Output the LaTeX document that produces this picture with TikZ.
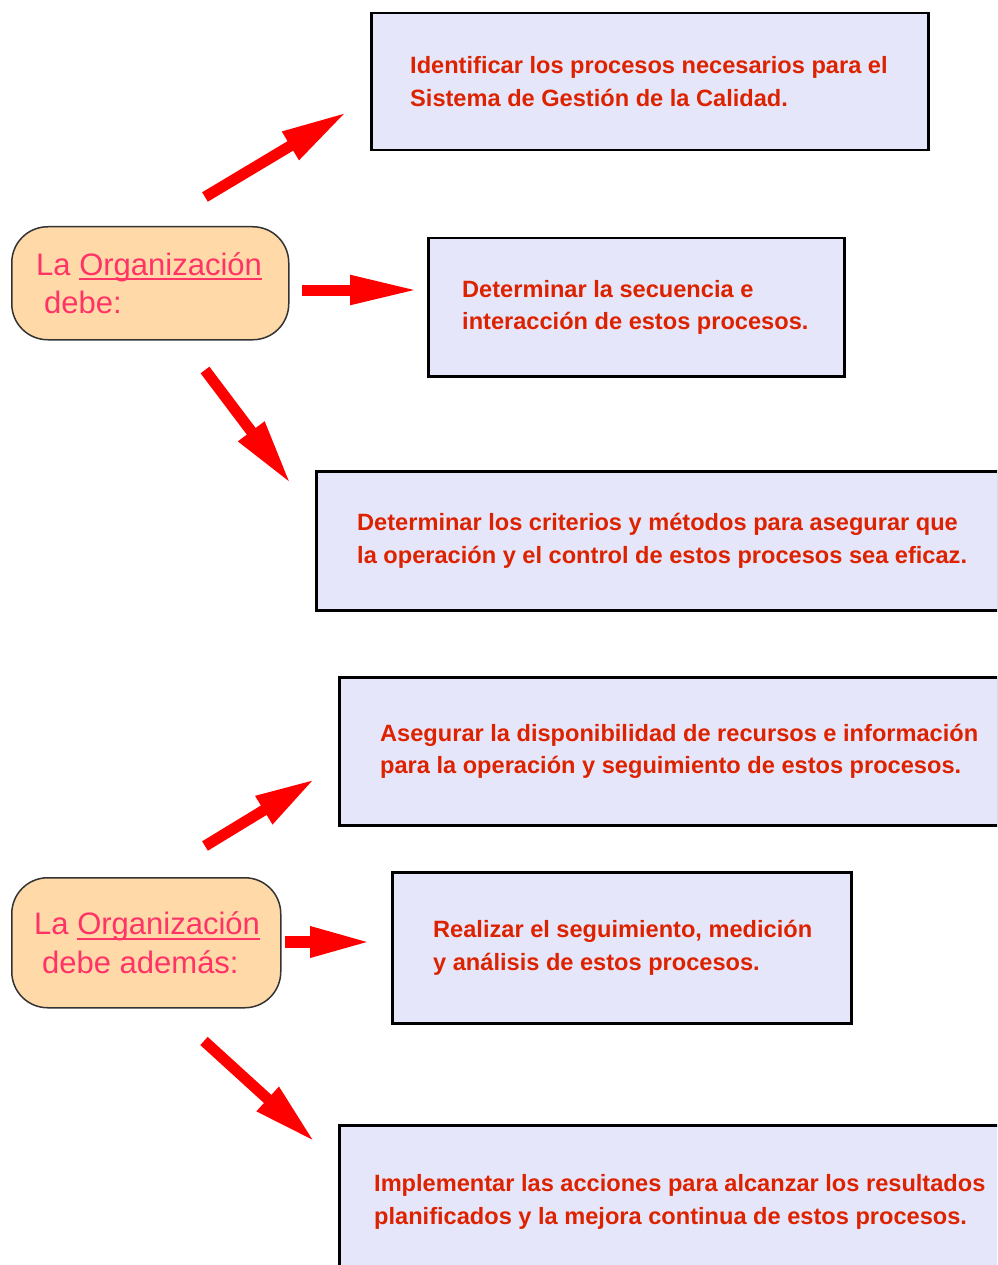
\documentclass[tikz,border=0pt]{standalone}
\usepackage{fontspec}
\setmainfont{Liberation Sans}
\usetikzlibrary{arrows.meta}
\definecolor{boxfill}{RGB}{230,230,250}
\definecolor{boxtxt}{RGB}{221,34,0}
\definecolor{orgfill}{RGB}{255,218,168}
\definecolor{orgtxt}{RGB}{255,51,102}
\definecolor{arrowred}{RGB}{255,0,0}
\newcommand{\ulword}[1]{\setbox0\hbox{#1}\rlap{\color{orgtxt}\rule[-5pt]{\wd0}{2pt}}\box0}
\tikzset{
  stepbox/.style={draw=black, line width=2.5pt, fill=boxfill, rectangle, anchor=north west, inner sep=0pt},
  steptext/.style={anchor=west, align=left, text=boxtxt, inner sep=0pt, font=\fontsize{23.6}{32.5}\selectfont\bfseries},
  orgbox/.style={draw=black!80, line width=1.5pt, fill=orgfill, rectangle, rounded corners=36pt, anchor=north west, inner sep=0pt},
  orgtext/.style={anchor=west, align=left, text=orgtxt, inner sep=0pt, font=\fontsize{31}{38.5}\selectfont},
  fatarrow/.style={draw=arrowred, line width=11pt, -{Triangle[length=66pt,width=30pt]}},
}
\begin{document}
\begin{tikzpicture}[x=1pt,y=-1pt]
\useasboundingbox (0,0) rectangle (997,1265);
\clip (0,0) rectangle (997,1265);
\fill[white] (0,0) rectangle (997,1265);

% ---- top group ----
\node[orgbox, minimum width=277pt, minimum height=113pt] (o1) at (11,226) {};
\node[orgtext] (o1t) at ([xshift=25pt]o1.west) {La \ulword{Organización}\\\hspace*{8pt}debe:};

\node[stepbox, minimum width=557pt, minimum height=137pt] (b1) at (370,12) {};
\node[steptext] (b1t) at ([xshift=40pt]b1.west) {Identificar los procesos necesarios para el\\Sistema de Gestión de la Calidad.};

\node[stepbox, minimum width=416pt, minimum height=138pt] (b2) at (427,237) {};
\node[steptext] (b2t) at ([xshift=35pt]b2.west) {Determinar la secuencia e\\interacción de estos procesos.};

\node[stepbox, minimum width=682pt, minimum height=139pt] (b3) at (315,470) {};
\node[steptext] (b3t) at ([xshift=42pt]b3.west) {Determinar los criterios y métodos para asegurar que\\la operación y el control de estos procesos sea eficaz.};

% ---- bottom group ----
\node[orgbox, minimum width=269pt, minimum height=130pt] (o2) at (11,877) {};
\node[orgtext] (o2t) at ([xshift=23pt]o2.west) {La \ulword{Organización}\\\hspace*{8pt}debe además:};

\node[stepbox, minimum width=659pt, minimum height=148pt] (b4) at (338,676) {};
\node[steptext] (b4t) at ([xshift=42pt]b4.west) {Asegurar la disponibilidad de recursos e información\\para la operación y seguimiento de estos procesos.};

\node[stepbox, minimum width=459pt, minimum height=151pt] (b5) at (391,871) {};
\node[steptext] (b5t) at ([xshift=42pt]b5.west) {Realizar el seguimiento, medición\\y análisis de estos procesos.};

\node[stepbox, minimum width=680pt, minimum height=151pt] (b6) at (338,1124) {};
\node[steptext] (b6t) at ([xshift=36pt,yshift=-1pt]b6.west) {Implementar las acciones para alcanzar los resultados\\planificados y la mejora continua de estos procesos.};

% ---- arrows ----
\coordinate (a1s) at (205,197); \coordinate (a1e) at (347,112);
\coordinate (a2s) at (302,290); \coordinate (a2e) at (419,290);
\coordinate (a3s) at (205,370); \coordinate (a3e) at (291,484);
\coordinate (a4s) at (205,846); \coordinate (a4e) at (315,779);
\coordinate (a5s) at (285,942); \coordinate (a5e) at (372,942);
\coordinate (a6s) at (204,1041); \coordinate (a6e) at (315,1142);
\draw[fatarrow] (a1s) -- (a1e);
\draw[fatarrow, -{Triangle[length=69pt,width=27pt]}] (a2s) -- (a2e);
\draw[fatarrow] (a3s) -- (a3e);
\draw[fatarrow, -{Triangle[length=60pt,width=30pt]}] (a4s) -- (a4e);
\draw[fatarrow, line width=12pt, -{Triangle[length=62pt,width=28pt]}] (a5s) -- (a5e);
\draw[fatarrow, -{Triangle[length=64pt,width=30pt]}] (a6s) -- (a6e);
\end{tikzpicture}
\end{document}
